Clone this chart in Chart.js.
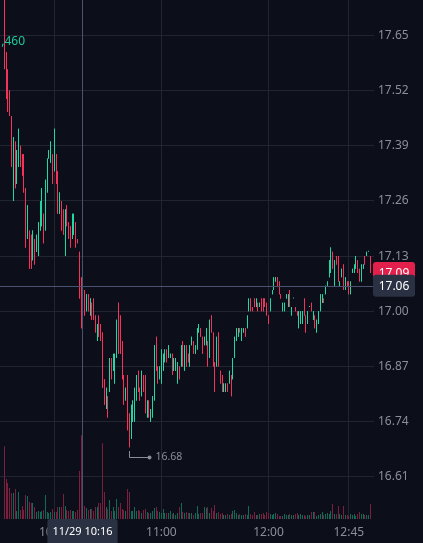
<!DOCTYPE html>
<html>
<head>
<meta charset="utf-8">
<script src="https://cdn.jsdelivr.net/npm/chart.js@4.4.0/dist/chart.umd.min.js"></script>
<style>
  html, body { margin: 0; padding: 0; background: #0c0f19; }
  canvas { display: block; }
</style>
</head>
<body>
<canvas id="priceChart" width="423" height="543"></canvas>
<script>
// 1-minute bars, 11/29, first visible bar 09:32
const opens = [
  17.74,17.61,17.57,17.52,17.46,17.26,17.40,17.30,17.34,17.39,
  17.37,17.37,17.29,17.17,17.19,17.18,17.12,17.17,17.14,17.13,
  17.19,17.20,17.23,17.19,17.28,17.36,17.35,17.37,17.33,17.37,
  17.33,17.23,17.26,17.24,17.13,17.25,17.21,17.20,17.17,17.18,
  17.21,17.17,17.14,17.08,16.99,17.05,17.00,17.04,16.99,17.02,
  17.03,16.99,16.93,16.99,16.97,16.95,16.84,16.77,16.80,16.81,
  16.89,16.86,16.83,16.89,17.02,16.99,16.93,16.85,16.79,16.85,
  16.76,16.70,16.74,16.74,16.79,16.86,16.82,16.80,16.85,16.85,
  16.75,16.79,16.74,16.75,16.79,16.94,16.87,16.84,16.83,16.86,
  16.88,16.91,16.89,16.89,16.90,16.86,16.86,16.83,16.87,16.87,
  16.93,16.86,16.92,16.90,16.87,16.92,16.93,16.90,16.91,16.95,
  16.96,16.94,16.92,16.92,16.93,16.89,16.99,16.95,16.88,16.87,
  16.95,16.86,16.85,16.81,16.81,16.83,16.83,16.85,16.84,16.89,
  16.93,16.94,16.96,16.93,16.95,16.96,16.96,17.00,17.03,17.01,
  17.03,17.01,17.02,17.01,17.03,17.03,17.03,17.02,16.99,17.00,
  17.04,17.05,17.07,17.08,17.07,17.04,17.00,17.00,17.03,17.01,
  17.05,16.99,17.03,17.01,17.00,16.96,16.97,16.97,17.03,16.99,
  16.97,17.01,17.02,16.98,16.99,16.95,16.97,17.00,17.02,17.03,
  17.04,17.06,17.08,17.09,17.14,17.06,17.13,17.13,17.06,17.08,
  17.11,17.05,17.07,17.07,17.04,17.09,17.09,17.10,17.12,17.10,
  17.07,17.10,17.13,17.13,17.14,17.13
];
const highs = [
  17.76,17.61,17.57,17.52,17.46,17.41,17.40,17.38,17.43,17.39,
  17.37,17.37,17.29,17.25,17.19,17.18,17.19,17.17,17.18,17.21,
  17.26,17.29,17.23,17.31,17.36,17.38,17.40,17.37,17.43,17.37,
  17.33,17.28,17.26,17.24,17.24,17.25,17.21,17.20,17.23,17.23,
  17.21,17.17,17.14,17.08,17.03,17.05,17.04,17.04,17.03,17.02,
  17.03,16.99,16.97,16.99,16.97,16.95,16.84,16.82,16.80,16.89,
  16.89,16.90,16.90,16.98,17.02,16.99,16.93,16.85,16.82,16.85,
  16.76,16.78,16.79,16.82,16.85,16.86,16.82,16.86,16.85,16.85,
  16.79,16.79,16.77,16.80,16.92,16.94,16.87,16.87,16.91,16.90,
  16.91,16.91,16.92,16.90,16.90,16.89,16.89,16.88,16.87,16.92,
  16.93,16.92,16.92,16.90,16.92,16.94,16.93,16.92,16.96,16.97,
  16.96,16.94,16.94,16.96,16.93,16.98,16.99,16.95,16.88,16.94,
  16.95,16.86,16.85,16.83,16.83,16.83,16.86,16.85,16.89,16.94,
  16.96,16.96,16.96,16.96,16.96,16.96,16.99,17.03,17.03,17.01,
  17.03,17.03,17.02,17.02,17.03,17.03,17.03,17.02,16.99,17.03,
  17.05,17.08,17.08,17.08,17.07,17.04,17.02,17.02,17.04,17.04,
  17.05,17.01,17.03,17.01,17.00,17.00,17.00,17.00,17.03,16.99,
  17.00,17.01,17.02,17.00,16.99,16.98,17.00,17.04,17.04,17.03,
  17.06,17.07,17.12,17.15,17.14,17.12,17.13,17.13,17.07,17.10,
  17.11,17.08,17.07,17.07,17.07,17.10,17.11,17.13,17.12,17.10,
  17.11,17.11,17.13,17.14,17.14,17.13
];
const lows = [
  17.57,17.50,17.47,17.46,17.34,17.26,17.29,17.30,17.34,17.34,
  17.32,17.28,17.15,17.17,17.10,17.10,17.12,17.11,17.14,17.13,
  17.19,17.20,17.16,17.19,17.28,17.36,17.35,17.30,17.33,17.30,
  17.23,17.23,17.19,17.18,17.13,17.20,17.17,17.15,17.17,17.18,
  17.15,17.16,17.03,16.96,16.99,16.99,17.00,17.00,16.99,16.98,
  16.98,16.95,16.93,16.94,16.93,16.82,16.78,16.77,16.75,16.81,
  16.84,16.86,16.83,16.89,16.90,16.90,16.84,16.78,16.79,16.72,
  16.68,16.70,16.74,16.74,16.79,16.81,16.79,16.80,16.81,16.76,
  16.75,16.75,16.74,16.75,16.79,16.86,16.83,16.84,16.83,16.86,
  16.88,16.88,16.89,16.89,16.85,16.86,16.86,16.83,16.84,16.87,
  16.87,16.86,16.87,16.88,16.87,16.92,16.90,16.90,16.91,16.95,
  16.94,16.90,16.92,16.92,16.87,16.89,16.95,16.87,16.81,16.87,
  16.87,16.83,16.81,16.81,16.81,16.81,16.83,16.80,16.84,16.89,
  16.93,16.94,16.95,16.93,16.95,16.94,16.96,17.00,17.00,17.00,
  17.01,17.01,17.00,17.01,17.00,17.00,17.01,16.99,16.97,17.00,
  17.04,17.05,17.07,17.06,17.04,17.03,17.00,17.00,17.03,17.01,
  17.01,16.99,17.03,17.00,16.99,16.96,16.97,16.97,16.99,16.95,
  16.97,17.01,17.00,16.98,16.96,16.95,16.97,17.00,17.02,17.02,
  17.04,17.06,17.08,17.09,17.10,17.06,17.11,17.07,17.06,17.08,
  17.05,17.05,17.06,17.04,17.04,17.09,17.09,17.10,17.09,17.07,
  17.07,17.10,17.11,17.13,17.14,17.09
];
const closes = [
  17.58,17.50,17.47,17.46,17.34,17.41,17.29,17.38,17.43,17.34,
  17.32,17.28,17.15,17.25,17.10,17.10,17.19,17.11,17.18,17.21,
  17.26,17.29,17.16,17.31,17.36,17.38,17.40,17.30,17.43,17.30,
  17.23,17.28,17.19,17.18,17.24,17.20,17.17,17.15,17.23,17.23,
  17.15,17.16,17.03,16.96,17.03,16.99,17.04,17.00,17.03,16.98,
  16.98,16.95,16.97,16.94,16.93,16.82,16.78,16.82,16.75,16.89,
  16.84,16.90,16.90,16.98,16.90,16.90,16.84,16.78,16.82,16.72,
  16.68,16.78,16.79,16.82,16.85,16.81,16.79,16.86,16.81,16.76,
  16.79,16.75,16.77,16.80,16.92,16.86,16.83,16.87,16.91,16.90,
  16.91,16.88,16.92,16.90,16.85,16.89,16.89,16.88,16.84,16.92,
  16.87,16.92,16.87,16.88,16.92,16.94,16.90,16.92,16.96,16.97,
  16.94,16.90,16.94,16.96,16.87,16.98,16.95,16.87,16.81,16.94,
  16.87,16.83,16.81,16.83,16.83,16.81,16.86,16.80,16.89,16.94,
  16.96,16.96,16.95,16.96,16.96,16.94,16.99,17.03,17.00,17.00,
  17.01,17.03,17.00,17.02,17.00,17.00,17.01,16.99,16.97,17.03,
  17.05,17.08,17.08,17.06,17.04,17.03,17.02,17.02,17.04,17.04,
  17.01,17.01,17.03,17.00,16.99,17.00,17.00,17.00,16.99,16.95,
  17.00,17.01,17.00,17.00,16.96,16.98,17.00,17.04,17.04,17.02,
  17.06,17.07,17.12,17.15,17.10,17.12,17.11,17.07,17.07,17.10,
  17.05,17.08,17.06,17.04,17.07,17.10,17.11,17.13,17.09,17.07,
  17.11,17.11,17.11,17.14,17.14,17.09
];
// volume, thousands of shares
const volumes = [
  73,40,36,31,26,26,30,8,27,9,
  13,9,24,23,17,16,16,12,7,8,
  7,8,9,24,7,6,7,10,7,7,
  12,12,12,25,13,9,8,9,8,8,
  7,9,48,84,10,13,11,9,10,10,
  8,12,12,16,16,76,27,12,10,19,
  8,12,8,20,12,16,10,9,8,30,
  27,8,8,12,8,9,8,6,9,10,
  7,6,6,8,11,12,8,7,6,10,
  6,6,6,8,5,6,4,6,12,16,
  7,6,7,6,6,6,4,6,13,5,
  6,6,12,11,12,6,11,8,14,6,
  7,5,6,4,4,5,4,5,8,9,
  6,4,5,4,4,5,4,13,5,4,
  7,4,4,5,5,6,4,7,6,5,
  4,5,6,5,3,3,3,5,4,4,
  5,4,4,5,6,4,5,4,4,3,
  4,4,7,7,7,3,4,5,7,4,
  5,6,5,8,15,5,5,13,5,4,
  13,4,4,3,5,4,5,3,5,7,
  5,5,4,4,4,15
];

const firstBarTime = "09:32";
const xTickLabels = ["10:00", "11:00", "12:00", "12:45"];
const yTicks = [16.61, 16.74, 16.87, 17.00, 17.13, 17.26, 17.39, 17.52, 17.65];
const crosshairDate = "11/29";
const crosshairTime = "10:16";
const crosshairPrice = 17.06;
const legendValue = "1,460";

const BG = "#0c0f19";
const GRID = "#222530";
const TEXT = "#8b8e99";
const UP = "#1fd8a4";
const DOWN = "#f5325c";
const VOL_UP = "#0f6b56";
const VOL_DOWN = "#7b1f3e";
const CROSS = "#4a5272";
const LABEL_BG = "#2a3142";

Chart.defaults.font.family = "'Noto Sans', sans-serif";

function toMinutes(hhmm) {
  const [h, m] = hhmm.split(":").map(Number);
  return h * 60 + m - (9 * 60 + 30);
}

const firstX = toMinutes(firstBarTime);
const xs = closes.map((_, i) => firstX + i);
const isUp = closes.map((c, i) => c >= opens[i]);

const overlay = {
  id: "overlay",
  beforeDraw(chart) {
    const ctx = chart.ctx;
    ctx.save();
    ctx.fillStyle = BG;
    ctx.fillRect(0, 0, chart.width, chart.height);
    ctx.restore();
  },
  // snap 1px bars onto whole pixels so they stay crisp
  afterDatasetsUpdate(chart) {
    chart.data.datasets.forEach((d, i) => {
      chart.getDatasetMeta(i).data.forEach(el => {
        el.x = Math.floor(el.x) + 0.5;
      });
    });
  },
  afterDraw(chart) {
    const { ctx, chartArea: a } = chart;
    const x = chart.scales.x, y = chart.scales.y;
    ctx.save();

    // lowest low marker
    let lo = 0;
    lows.forEach((v, i) => { if (v < lows[lo]) lo = i; });
    const lx = Math.floor(x.getPixelForValue(xs[lo])) + 0.5;
    const ly = Math.round(y.getPixelForValue(lows[lo]));
    ctx.strokeStyle = TEXT;
    ctx.fillStyle = TEXT;
    ctx.lineWidth = 1;
    ctx.beginPath();
    ctx.moveTo(lx, ly + 4);
    ctx.lineTo(lx, ly + 10.5);
    ctx.lineTo(lx + 20, ly + 10.5);
    ctx.stroke();
    ctx.beginPath();
    ctx.arc(lx + 20, ly + 10.5, 2, 0, Math.PI * 2);
    ctx.fill();
    ctx.font = "10.5px 'Noto Sans'";
    ctx.textAlign = "left";
    ctx.textBaseline = "middle";
    ctx.fillText(lows[lo].toFixed(2), lx + 26, ly + 10.5);

    // crosshair
    const cx = Math.floor(x.getPixelForValue(toMinutes(crosshairTime))) + 0.5;
    const cy = Math.round(y.getPixelForValue(crosshairPrice)) + 0.5;
    ctx.strokeStyle = CROSS;
    ctx.beginPath();
    ctx.moveTo(cx, a.top);
    ctx.lineTo(cx, a.bottom);
    ctx.moveTo(a.left, cy);
    ctx.lineTo(a.right, cy);
    ctx.stroke();

    // last price label, then crosshair price label on top
    function priceBox(price, color) {
      const py = y.getPixelForValue(price);
      ctx.fillStyle = color;
      ctx.beginPath();
      ctx.roundRect(a.right - 1, py - 11, 42, 22, 3);
      ctx.fill();
      ctx.fillStyle = "#ffffff";
      ctx.font = "12px 'Noto Sans'";
      ctx.textAlign = "center";
      ctx.textBaseline = "middle";
      ctx.fillText(price.toFixed(2), a.right + 20, py + 0.5);
    }
    priceBox(closes[closes.length - 1], "#e3204c");
    priceBox(crosshairPrice, LABEL_BG);

    // crosshair time label
    ctx.font = "11px 'Noto Sans'";
    const txt = crosshairDate + " " + crosshairTime;
    const w = ctx.measureText(txt).width + 10;
    ctx.fillStyle = LABEL_BG;
    ctx.beginPath();
    ctx.roundRect(cx - w / 2, a.bottom, w, chart.height - a.bottom + 3, 3);
    ctx.fill();
    ctx.fillStyle = "#ffffff";
    ctx.textAlign = "center";
    ctx.textBaseline = "middle";
    ctx.fillText(txt, cx, a.bottom + 12.5);

    // truncated legend value
    ctx.fillStyle = "#1cc99a";
    ctx.font = "12px 'Noto Sans'";
    ctx.textAlign = "right";
    ctx.textBaseline = "alphabetic";
    ctx.fillText(legendValue, 25, 45);

    ctx.restore();
  }
};

new Chart(document.getElementById("priceChart"), {
  type: "bar",
  data: {
    datasets: [
      {
        label: "Body",
        data: xs.map((x, i) => ({ x, y: [opens[i], closes[i]] })),
        backgroundColor: isUp.map(u => (u ? UP : DOWN)),
        barThickness: 1,
        minBarLength: 1,
        inflateAmount: 0,
        grouped: false,
        order: 1,
        yAxisID: "y",
      },
      {
        label: "Wick",
        data: xs.map((x, i) => ({ x, y: [lows[i], highs[i]] })),
        backgroundColor: isUp.map(u => (u ? UP : DOWN)),
        barThickness: 1,
        inflateAmount: 0,
        grouped: false,
        order: 2,
        yAxisID: "y",
      },
      {
        label: "Volume",
        data: xs.map((x, i) => ({ x, y: volumes[i] })),
        backgroundColor: isUp.map(u => (u ? VOL_UP : VOL_DOWN)),
        barThickness: 1,
        inflateAmount: 0,
        grouped: false,
        order: 3,
        yAxisID: "v",
      },
    ],
  },
  options: {
    responsive: false,
    devicePixelRatio: 1,
    animation: false,
    events: [],
    layout: { padding: 0 },
    plugins: { legend: { display: false }, tooltip: { enabled: false } },
    scales: {
      x: {
        type: "linear",
        min: -0.42,
        max: 209.1,
        offset: false,
        grid: { color: GRID, drawTicks: false, offset: false },
        border: { display: false },
        afterBuildTicks: (s) => {
          s.ticks = xTickLabels.map(t => ({ value: toMinutes(t) }));
        },
        afterFit: (s) => {
          s.height = 24;
          s.paddingLeft = 0;
          s.paddingRight = 0;
        },
        ticks: {
          color: TEXT,
          font: { size: 12 },
          padding: 6,
          maxRotation: 0,
          autoSkip: false,
          callback: (v, i) => xTickLabels[i],
        },
      },
      y: {
        position: "right",
        min: 16.511,
        max: 17.733,
        grid: { color: GRID, drawTicks: false },
        border: { display: false },
        afterBuildTicks: (s) => {
          s.ticks = yTicks.map(v => ({ value: v }));
        },
        afterFit: (s) => {
          s.width = 49;
          s.paddingTop = 0;
          s.paddingBottom = 0;
        },
        ticks: {
          color: TEXT,
          font: { size: 12 },
          padding: 4,
          callback: (v) => Number(v).toFixed(2),
        },
      },
      v: {
        display: false,
        min: 0,
        max: 520,
      },
    },
  },
  plugins: [overlay],
});
</script>
</body>
</html>
